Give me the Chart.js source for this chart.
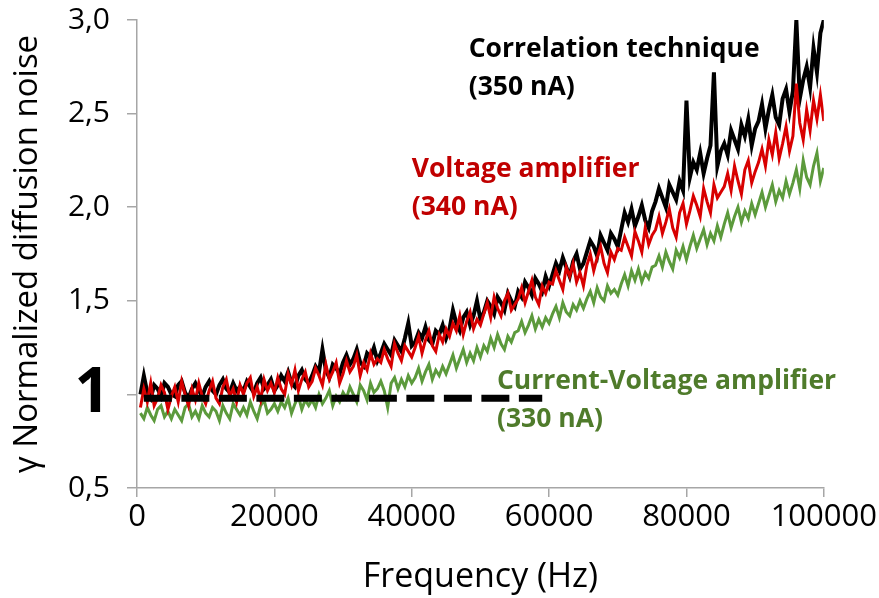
<!DOCTYPE html>
<html>
<head>
<meta charset="utf-8">
<script src="https://cdn.jsdelivr.net/npm/chart.js@4.4.1/dist/chart.umd.min.js"></script>
<style>
  html, body { margin: 0; padding: 0; background: #fff; }
  #noise-chart { display: block; }
</style>
</head>
<body>
<canvas id="noise-chart" width="879" height="598"></canvas>
<script>
// x values (Hz)
const FREQUENCY = [
  500, 1000, 1500, 2000, 2500, 3000, 3500, 4000, 4500, 5000,
  5500, 6000, 6500, 7000, 7500, 8000, 8500, 9000, 9500, 10000,
  10500, 11000, 11500, 12000, 12500, 13000, 13500, 14000, 14500, 15000,
  15500, 16000, 16500, 17000, 17500, 18000, 18500, 19000, 19500, 20000,
  20500, 21000, 21500, 22000, 22500, 23000, 23500, 24000, 24500, 25000,
  25500, 26000, 26500, 27000, 27500, 28000, 28500, 29000, 29500, 30000,
  30500, 31000, 31500, 32000, 32500, 33000, 33500, 34000, 34500, 35000,
  35500, 36000, 36500, 37000, 37500, 38000, 38500, 39000, 39500, 40000,
  40500, 41000, 41500, 42000, 42500, 43000, 43500, 44000, 44500, 45000,
  45500, 46000, 46500, 47000, 47500, 48000, 48500, 49000, 49500, 50000,
  50500, 51000, 51500, 52000, 52500, 53000, 53500, 54000, 54500, 55000,
  55500, 56000, 56500, 57000, 57500, 58000, 58500, 59000, 59500, 60000,
  60500, 61000, 61500, 62000, 62500, 63000, 63500, 64000, 64500, 65000,
  65500, 66000, 66500, 67000, 67500, 68000, 68500, 69000, 69500, 70000,
  70500, 71000, 71500, 72000, 72500, 73000, 73500, 74000, 74500, 75000,
  75500, 76000, 76500, 77000, 77500, 78000, 78500, 79000, 79500, 80000,
  80500, 81000, 81500, 82000, 82500, 83000, 83500, 84000, 84500, 85000,
  85500, 86000, 86500, 87000, 87500, 88000, 88500, 89000, 89500, 90000,
  90500, 91000, 91500, 92000, 92500, 93000, 93500, 94000, 94500, 95000,
  95500, 96000, 96500, 97000, 97500, 98000, 98500, 99000, 99500, 100000
];

// Correlation technique (350 nA) - black
const CORRELATION = [
  1.00, 1.10, 1.01, 0.98, 1.05, 1.03, 0.99, 1.06, 1.04, 1.00,
  0.99, 1.05, 1.07, 1.01, 0.98, 1.03, 1.06, 1.02, 0.99, 1.04,
  1.07, 1.02, 1.00, 1.05, 1.08, 1.03, 1.01, 1.06, 1.02, 1.04,
  1.02, 1.07, 1.04, 1.01, 1.06, 1.09, 1.03, 1.05, 1.08, 1.02,
  1.05, 1.10, 1.07, 1.12, 1.06, 1.04, 1.10, 1.13, 1.08, 1.06,
  1.10, 1.15, 1.12, 1.24, 1.13, 1.09, 1.16, 1.14, 1.11, 1.17,
  1.21, 1.16, 1.19, 1.24, 1.17, 1.15, 1.22, 1.20, 1.25, 1.18,
  1.22, 1.27, 1.24, 1.21, 1.29, 1.26, 1.23, 1.30, 1.38, 1.26,
  1.28, 1.33, 1.30, 1.36, 1.29, 1.27, 1.34, 1.32, 1.37, 1.30,
  1.35, 1.45, 1.38, 1.34, 1.41, 1.44, 1.37, 1.42, 1.50, 1.40,
  1.44, 1.50, 1.47, 1.43, 1.52, 1.49, 1.45, 1.54, 1.50, 1.47,
  1.55, 1.52, 1.60, 1.57, 1.53, 1.62, 1.59, 1.55, 1.63, 1.58,
  1.64, 1.70, 1.66, 1.73, 1.68, 1.63, 1.71, 1.75, 1.67, 1.70,
  1.76, 1.82, 1.79, 1.74, 1.85, 1.81, 1.77, 1.86, 1.83, 1.79,
  1.88, 1.97, 1.92, 1.99, 1.90, 1.95, 2.01, 1.93, 1.89, 1.98,
  2.03, 2.10, 2.05, 2.00, 2.12, 2.08, 2.04, 2.14, 2.09, 2.57,
  2.16, 2.24, 2.20, 2.29, 2.18, 2.26, 2.33, 2.72, 2.22, 2.30,
  2.34, 2.28, 2.41, 2.36, 2.31, 2.44, 2.38, 2.47, 2.33, 2.42,
  2.46, 2.55, 2.42, 2.52, 2.60, 2.48, 2.44, 2.58, 2.63, 2.51,
  2.62, 3.00, 2.58, 2.68, 2.75, 2.64, 2.85, 2.72, 2.93, 3.00
];

// Voltage amplifier (340 nA) - red
const VOLTAGE_AMP = [
  0.93, 1.03, 0.96, 1.06, 0.94, 0.98, 1.05, 1.01, 0.92, 0.99,
  1.04, 0.96, 1.07, 1.00, 0.94, 1.03, 0.97, 1.06, 0.99, 0.95,
  1.02, 1.07, 0.98, 0.95, 1.04, 1.08, 0.99, 1.03, 0.96, 1.05,
  1.00, 1.06, 1.09, 0.99, 1.04, 0.97, 1.08, 1.02, 1.06, 1.01,
  1.09, 1.03, 1.00, 1.11, 1.05, 1.13, 1.02, 1.08, 1.12, 1.04,
  1.07, 1.14, 1.10, 1.05, 1.16, 1.08, 1.12, 1.17, 1.06, 1.11,
  1.18, 1.12, 1.15, 1.21, 1.10, 1.17, 1.13, 1.22, 1.16, 1.19,
  1.17, 1.24, 1.19, 1.15, 1.27, 1.22, 1.18, 1.26, 1.23, 1.20,
  1.25, 1.31, 1.22, 1.29, 1.34, 1.26, 1.23, 1.32, 1.28, 1.35,
  1.31, 1.38, 1.34, 1.42, 1.32, 1.39, 1.44, 1.35, 1.40, 1.37,
  1.43, 1.49, 1.41, 1.52, 1.46, 1.42, 1.50, 1.54, 1.45, 1.48,
  1.51, 1.57, 1.49, 1.55, 1.61, 1.52, 1.48, 1.58, 1.54, 1.60,
  1.59, 1.66, 1.61, 1.56, 1.68, 1.63, 1.70, 1.60, 1.65, 1.58,
  1.69, 1.75, 1.66, 1.73, 1.79, 1.70, 1.65, 1.76, 1.72, 1.78,
  1.77, 1.84, 1.79, 1.74, 1.87, 1.82, 1.76, 1.89, 1.80, 1.85,
  1.88, 1.95, 1.86, 1.92, 1.99, 1.89, 1.84, 1.97, 2.02, 1.91,
  1.98, 2.06, 2.01, 1.95, 2.10, 2.03, 1.97, 2.12, 2.05, 2.08,
  2.11, 2.18, 2.09, 2.22, 2.14, 2.07, 2.20, 2.25, 2.13, 2.19,
  2.24, 2.31, 2.22, 2.36, 2.28, 2.40, 2.26, 2.34, 2.43, 2.30,
  2.38, 2.66, 2.45, 2.36, 2.52, 2.41, 2.57, 2.47, 2.60, 2.46
];

// Current-Voltage amplifier (330 nA) - green
const CURRENT_VOLTAGE_AMP = [
  0.90, 0.87, 0.93, 0.89, 0.86, 0.92, 0.94, 0.88, 0.91, 0.87,
  0.92, 0.89, 0.86, 0.93, 0.95, 0.88, 0.91, 0.87, 0.94, 0.90,
  0.88, 0.93, 0.91, 0.86, 0.94, 0.90, 0.87, 0.95, 0.92, 0.89,
  0.93, 0.89, 0.96, 0.91, 0.87, 0.94, 0.97, 0.90, 0.92, 0.95,
  0.91, 0.96, 0.93, 0.98, 0.90, 0.95, 0.99, 0.92, 0.97, 0.94,
  0.97, 0.93, 1.00, 0.95, 0.98, 1.02, 0.94, 0.99, 0.96, 1.01,
  0.98, 1.04, 1.00, 0.96, 1.05, 1.02, 0.97, 1.06, 1.01, 1.03,
  1.07, 1.02, 0.93, 1.06, 1.09, 1.03, 1.08, 1.04, 1.10, 1.06,
  1.09, 1.14, 1.07, 1.12, 1.16, 1.08, 1.13, 1.10, 1.15, 1.11,
  1.16, 1.21, 1.14, 1.19, 1.24, 1.17, 1.22, 1.18, 1.25, 1.20,
  1.26, 1.23, 1.30, 1.25, 1.32, 1.27, 1.24, 1.31, 1.28, 1.33,
  1.34, 1.39, 1.33, 1.37, 1.42, 1.35, 1.40, 1.36, 1.41, 1.38,
  1.43, 1.47, 1.41, 1.49, 1.44, 1.42, 1.48, 1.45, 1.50, 1.46,
  1.51, 1.55, 1.49, 1.57, 1.52, 1.50, 1.58, 1.54, 1.56, 1.53,
  1.59, 1.64, 1.58, 1.66, 1.61, 1.67, 1.60, 1.65, 1.62, 1.68,
  1.69, 1.74, 1.68, 1.76, 1.71, 1.67, 1.77, 1.73, 1.79, 1.72,
  1.79, 1.85, 1.78, 1.83, 1.88, 1.80, 1.86, 1.82, 1.90, 1.84,
  1.91, 1.97, 1.89, 1.95, 2.00, 1.92, 1.98, 1.94, 2.02, 1.96,
  2.02, 2.08, 2.00, 2.06, 2.12, 2.03, 2.09, 2.05, 2.14, 2.07,
  2.13, 2.20, 2.10, 2.25, 2.16, 2.12, 2.22, 2.29, 2.14, 2.21
];

// dashed reference level
const REF_X = [1000, 59000];
const REF_Y = [0.98, 0.98];

const X_TICKS = [0, 20000, 40000, 60000, 80000, 100000];
const Y_TICKS = [0.5, 1.0, 1.5, 2.0, 2.5, 3.0];

const FONT = "'Open Sans', 'DejaVu Sans', sans-serif";
const AXIS_GREY = '#a6a6a6';

// text notes placed in data coordinates
const NOTES = [
  { lines: ['Correlation technique', '(350 nA)'], x: 48300, y: 2.84, color: '#000000' },
  { lines: ['Voltage amplifier', '(340 nA)'], x: 40000, y: 2.20, color: '#c00000' },
  { lines: ['Current-Voltage amplifier', '(330 nA)'], x: 52400, y: 1.07, color: '#4f7b2b' }
];

const toPoints = (xs, ys) => xs.map((x, i) => ({ x: x, y: ys[i] }));

const notesPlugin = {
  id: 'notes',
  afterDatasetsDraw(chart) {
    const { ctx, scales } = chart;
    ctx.save();
    ctx.textBaseline = 'middle';
    ctx.textAlign = 'left';
    ctx.font = `bold 26.5px ${FONT}`;
    NOTES.forEach(note => {
      const px = scales.x.getPixelForValue(note.x);
      const py = scales.y.getPixelForValue(note.y);
      ctx.fillStyle = note.color;
      note.lines.forEach((line, i) => ctx.fillText(line, px, py + i * 38));
    });
    ctx.restore();
  }
};

new Chart(document.getElementById('noise-chart'), {
  type: 'line',
  data: {
    datasets: [
      {
        label: 'reference',
        data: toPoints(REF_X, REF_Y),
        borderColor: '#000',
        borderWidth: 7,
        borderDash: [28, 9.5],
        borderCapStyle: 'butt',
        pointRadius: 0,
        order: 0
      },
      {
        label: 'Voltage amplifier',
        data: toPoints(FREQUENCY, VOLTAGE_AMP),
        borderColor: '#d80000',
        borderWidth: 3,
        pointRadius: 0,
        order: 1
      },
      {
        label: 'Correlation technique',
        data: toPoints(FREQUENCY, CORRELATION),
        borderColor: '#000000',
        borderWidth: 4,
        pointRadius: 0,
        order: 2
      },
      {
        label: 'Current-Voltage amplifier',
        data: toPoints(FREQUENCY, CURRENT_VOLTAGE_AMP),
        borderColor: '#5c9a3c',
        borderWidth: 3,
        pointRadius: 0,
        order: 3
      }
    ]
  },
  options: {
    responsive: false,
    animation: false,
    events: [],
    layout: { padding: { top: 20, right: 53, left: 0, bottom: 0 } },
    plugins: { legend: { display: false }, tooltip: { enabled: false } },
    scales: {
      x: {
        type: 'linear',
        min: 0,
        max: 100000,
        afterBuildTicks: axis => { axis.ticks = X_TICKS.map(v => ({ value: v })); },
        afterFit: axis => { axis.height = 110; },
        ticks: {
          callback: v => String(v),
          color: '#000',
          font: { family: FONT, size: 31 },
          padding: 2,
          maxRotation: 0
        },
        grid: { drawOnChartArea: false, tickLength: 9, color: AXIS_GREY, lineWidth: 1.5 },
        border: { color: AXIS_GREY, width: 1.5 },
        title: {
          display: true,
          text: 'Frequency (Hz)',
          color: '#000',
          font: { family: FONT, size: 34 },
          padding: { top: 0, bottom: 0 }
        }
      },
      y: {
        min: 0.5,
        max: 3.0,
        afterBuildTicks: axis => { axis.ticks = Y_TICKS.map(v => ({ value: v })); },
        afterFit: axis => {
          axis.width = 137;
          // let the top label overhang the plot instead of pushing it down
          axis.paddingTop = 0;
          axis.paddingBottom = 0;
        },
        ticks: {
          // the 1,0 level is marked by a big bold "1"
          callback: v => (v === 1 ? '1' : v.toFixed(1).replace('.', ',')),
          color: '#000',
          font: ctx => (ctx.tick && ctx.tick.value === 1
            ? { family: FONT, size: 62, weight: 'bold' }
            : { family: FONT, size: 30 }),
          padding: 17
        },
        grid: { drawOnChartArea: false, tickLength: 10, color: AXIS_GREY, lineWidth: 1.5 },
        border: { color: AXIS_GREY, width: 1.5 },
        title: {
          display: true,
          text: 'γ Normalized diffusion noise',
          color: '#000',
          font: { family: FONT, size: 33 },
          padding: { top: 8, bottom: 0 }
        }
      }
    }
  },
  plugins: [notesPlugin]
});
</script>
</body>
</html>
